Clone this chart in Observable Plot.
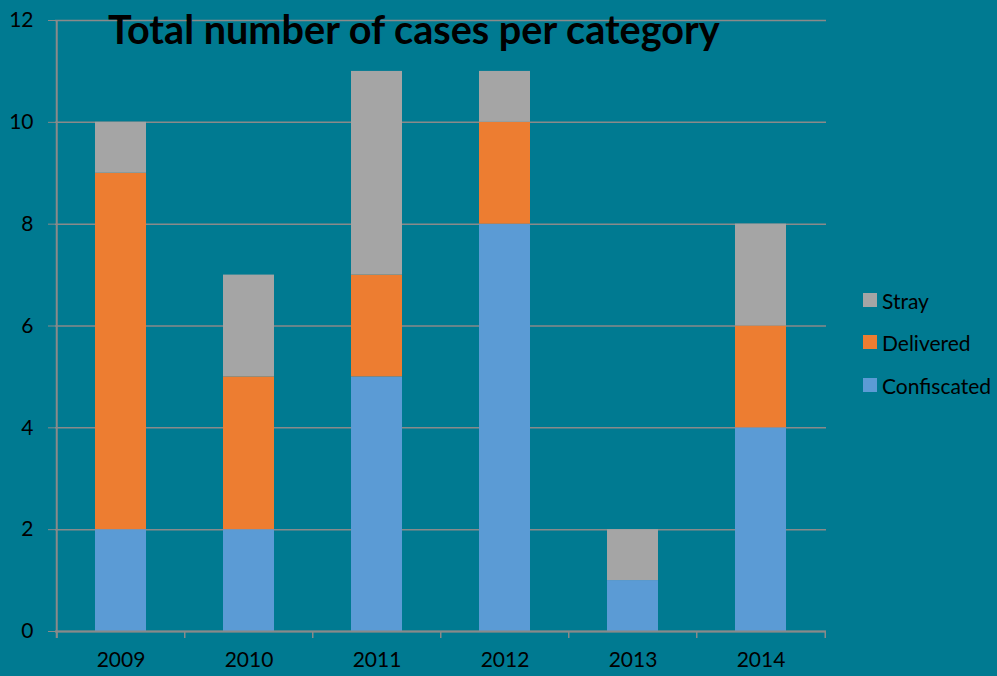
<!DOCTYPE html>
<html><head><meta charset="utf-8">
<script src="https://cdn.jsdelivr.net/npm/d3@7"></script>
<script src="https://cdn.jsdelivr.net/npm/@observablehq/plot@0.6"></script>
<style>
body{margin:0;background:#007A91;}
#wrap{position:relative;width:997px;height:676px;font-family:Lato,"Open Sans",sans-serif;color:#000;overflow:hidden;}
#title{position:absolute;left:108px;top:9px;font-weight:bold;font-size:37px;line-height:1;white-space:nowrap;}
.li{position:absolute;left:863px;display:flex;align-items:center;font-size:21px;line-height:1;white-space:nowrap;}
.sw{width:14px;height:14px;margin-right:5px;}
</style>
</head><body>
<div id="wrap"></div>
<script>
const years = ["2009","2010","2011","2012","2013","2014"];
const confiscated = [2,2,5,8,1,4];
const delivered = [7,3,2,2,0,2];
const stray = [1,2,4,1,1,2];
const categories = ["Confiscated","Delivered","Stray"];
const colors = ["#5B9BD5","#ED7D31","#A5A5A5"];
const yTicks = [0,2,4,6,8,10,12];
const titleText = "Total number of cases per category";

const series = [confiscated, delivered, stray];
const data = years.flatMap((y,i)=>categories.map((c,k)=>({year:y, category:c, value:series[k][i]})));

const W=997,H=676,mL=55,mR=171,mT=20,mB=45;
const step=(W-mL-mR)/years.length;
const tickExt = 7/((H-mT-mB)/12);
const grid="#8a8a8a";

const chart = Plot.plot({
  width:W,height:H,marginLeft:mL,marginRight:mR,marginTop:mT,marginBottom:mB,
  style:{background:"transparent",fontFamily:"Lato, 'Open Sans', sans-serif",fontSize:"21px",color:"#000"},
  x:{domain:years,paddingInner:0.6,paddingOuter:0.3,label:null},
  y:{domain:[0,12],label:null},
  color:{domain:categories,range:colors},
  marks:[
    Plot.ruleY(yTicks,{y:d=>d,stroke:grid,strokeWidth:1.5}),
    Plot.barY(data,{x:"year",y:"value",fill:"category"}),
    Plot.ruleY([0],{stroke:grid,strokeWidth:2}),
    Plot.ruleX(years,{x:d=>d,y1:0,y2:-tickExt,dx:-step/2,stroke:grid,strokeWidth:1.5}),
    Plot.ruleX([years[years.length-1]],{x:d=>d,y1:0,y2:-tickExt,dx:step/2,stroke:grid,strokeWidth:1.5}),
    Plot.ruleX([years[0]],{x:d=>d,y1:-tickExt,y2:12,dx:-step/2,stroke:grid,strokeWidth:2}),
    Plot.axisY({ticks:yTicks,tickSize:7,tickPadding:15,stroke:grid,fill:"#000",label:null,fontSize:21}),
    Plot.axisX({tickSize:0,tickPadding:21,fill:"#000",label:null,fontSize:21})
  ]
});
const wrap=document.getElementById("wrap");
wrap.appendChild(chart);

const t=document.createElement("div");
t.id="title";t.textContent=titleText;wrap.appendChild(t);
const tw=t.getBoundingClientRect().width;
t.style.fontSize=(37*612/tw)+"px";

const legendY={Stray:300,Delivered:342,Confiscated:385};
categories.slice().reverse().forEach(c=>{
  const d=document.createElement("div");d.className="li";
  d.style.top=(legendY[c]-10)+"px";d.style.height="20px";
  const s=document.createElement("div");s.className="sw";s.style.background=colors[categories.indexOf(c)];
  const l=document.createElement("span");l.textContent=c;
  d.appendChild(s);d.appendChild(l);wrap.appendChild(d);
});
</script>
</body></html>
